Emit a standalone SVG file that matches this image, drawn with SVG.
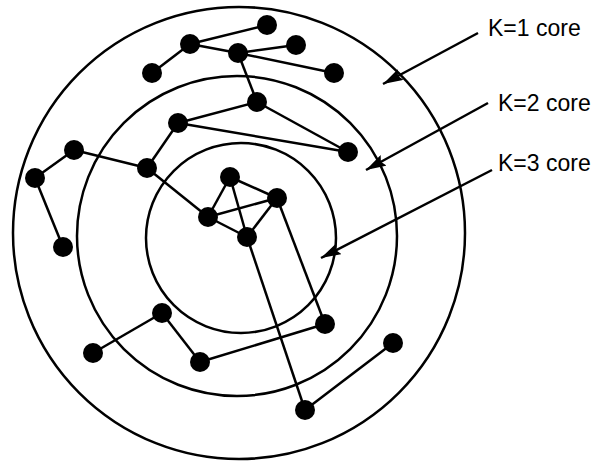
<svg xmlns="http://www.w3.org/2000/svg" width="601" height="463" viewBox="0 0 601 463">
<style>
.ring{fill:none;stroke:#000;stroke-width:2.5}
.e{stroke:#000;stroke-width:2.5;fill:none}
.n{fill:#000}
.lbl{font-family:"Liberation Sans",Arial,sans-serif;font-size:23px;fill:#000}
.arr{stroke:#000;stroke-width:2.5;fill:none;marker-end:url(#ah)}
</style>
<defs>
<marker id="ah" markerUnits="userSpaceOnUse" viewBox="0 0 20 12" refX="20" refY="6" markerWidth="20" markerHeight="12" orient="auto">
<path d="M0,0 L20,6 L0,12 L3,6 z" fill="#000"/>
</marker>
</defs>
<rect width="601" height="463" fill="#fff"/>
<g id="rings">
<circle id="ring-k1" class="ring" cx="239" cy="233" r="226"/>
<circle id="ring-k2" class="ring" cx="237" cy="236" r="160"/>
<circle id="ring-k3" class="ring" cx="241" cy="238" r="95"/>
</g>
<g id="connectors">
<line class="e" x1="190" y1="44" x2="267" y2="25"/>
<line class="e" x1="190" y1="44" x2="152" y2="73"/>
<line class="e" x1="190" y1="44" x2="238" y2="53"/>
<line class="e" x1="238" y1="53" x2="296" y2="45"/>
<line class="e" x1="238" y1="53" x2="334" y2="73"/>
<line class="e" x1="238" y1="53" x2="257" y2="102"/>
<line class="e" x1="257" y1="102" x2="178" y2="123"/>
<line class="e" x1="257" y1="102" x2="348" y2="152"/>
<line class="e" x1="178" y1="123" x2="348" y2="152"/>
<line class="e" x1="178" y1="123" x2="147" y2="168"/>
<line class="e" x1="147" y1="168" x2="74" y2="150"/>
<line class="e" x1="74" y1="150" x2="35" y2="178"/>
<line class="e" x1="35" y1="178" x2="63" y2="247"/>
<line class="e" x1="147" y1="168" x2="208" y2="217"/>
<line class="e" x1="208" y1="217" x2="230" y2="177"/>
<line class="e" x1="208" y1="217" x2="277" y2="198"/>
<line class="e" x1="208" y1="217" x2="247" y2="237"/>
<line class="e" x1="230" y1="177" x2="277" y2="198"/>
<line class="e" x1="230" y1="177" x2="247" y2="237"/>
<line class="e" x1="277" y1="198" x2="247" y2="237"/>
<line class="e" x1="277" y1="198" x2="325" y2="324"/>
<line class="e" x1="247" y1="237" x2="305" y2="410"/>
<line class="e" x1="325" y1="324" x2="200" y2="362"/>
<line class="e" x1="200" y1="362" x2="162" y2="313"/>
<line class="e" x1="162" y1="313" x2="93" y2="353"/>
<line class="e" x1="305" y1="410" x2="393" y2="343"/>
<line class="arr" x1="478" y1="33" x2="383" y2="84"/>
<line class="arr" x1="488" y1="103" x2="366" y2="170"/>
<line class="arr" x1="492" y1="170" x2="321" y2="258"/>
</g>
<g id="nodes">
<circle id="n1" class="n" cx="267" cy="25" r="10"/>
<circle id="n2" class="n" cx="190" cy="44" r="10"/>
<circle id="n3" class="n" cx="238" cy="53" r="10"/>
<circle id="n4" class="n" cx="152" cy="73" r="10"/>
<circle id="n5" class="n" cx="296" cy="45" r="10"/>
<circle id="n6" class="n" cx="334" cy="73" r="10"/>
<circle id="n7" class="n" cx="257" cy="102" r="10"/>
<circle id="n8" class="n" cx="178" cy="123" r="10"/>
<circle id="n9" class="n" cx="348" cy="152" r="10"/>
<circle id="n10" class="n" cx="74" cy="150" r="10"/>
<circle id="n11" class="n" cx="35" cy="178" r="10"/>
<circle id="n12" class="n" cx="147" cy="168" r="10"/>
<circle id="n13" class="n" cx="63" cy="247" r="10"/>
<circle id="n14" class="n" cx="230" cy="177" r="10"/>
<circle id="n15" class="n" cx="277" cy="198" r="10"/>
<circle id="n16" class="n" cx="208" cy="217" r="10"/>
<circle id="n17" class="n" cx="247" cy="237" r="10"/>
<circle id="n18" class="n" cx="162" cy="313" r="10"/>
<circle id="n19" class="n" cx="93" cy="353" r="10"/>
<circle id="n20" class="n" cx="200" cy="362" r="10"/>
<circle id="n21" class="n" cx="325" cy="324" r="10"/>
<circle id="n22" class="n" cx="393" cy="343" r="10"/>
<circle id="n23" class="n" cx="305" cy="410" r="10"/>
</g>
<g id="labels">
<text class="lbl" x="488" y="36">K=1 core</text>
<text class="lbl" x="498" y="111">K=2 core</text>
<text class="lbl" x="498" y="171">K=3 core</text>
</g>
</svg>
